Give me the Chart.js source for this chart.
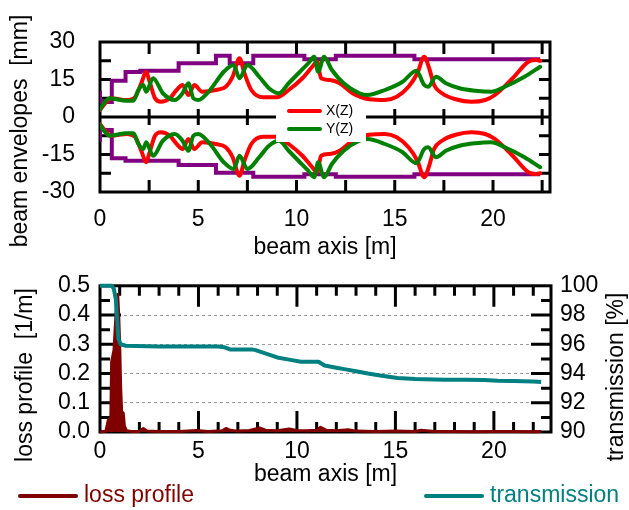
<!DOCTYPE html>
<html>
<head>
<meta charset="utf-8">
<script src="https://cdn.jsdelivr.net/npm/chart.js@4.4.1/dist/chart.umd.min.js"></script>
<style>
  html, body { margin: 0; padding: 0; background: #fff; }
  #wrap { position: relative; width: 629px; height: 510px; }
  .panel { position: absolute; left: 0; width: 629px; }
  #top-panel { top: 0; height: 262px; }
  #bottom-panel { top: 262px; height: 248px; }
</style>
</head>
<body>
<div id="wrap">
  <div class="panel" id="top-panel"><canvas id="envelope-chart"></canvas></div>
  <div class="panel" id="bottom-panel"><canvas id="loss-chart"></canvas></div>
</div>
<script>
const FONT = "'Liberation Sans', Arial, sans-serif";

// tick labels
const zTicks = [0, 5, 10, 15, 20];
const envelopeTicks = [-30, -15, 0, 15, 30];
const lossTicks = [0, 0.1, 0.2, 0.3, 0.4, 0.5];
const transmissionTicks = [90, 92, 94, 96, 98, 100];

// aperture (step function, value holds until next z)
const apertureZ = [0, 0.6, 1.3, 2.05, 4.0, 5.9, 6.6, 7.8, 10.4, 12.0, 16.0, 17.2, 22.4];
const apertureTop = [10.5, 6.0, 14.5, 18.0, 18.5, 21.5, 24.5, 21.5, 24.5, 23.1, 24.5, 23.1, 23.1];
const apertureBottom = [-9.9, -5.2, -16.5, -17.5, -17.5, -19.2, -22.3, -22.3, -23.9, -22.9, -23.9, -22.9, -22.9];

// X(Z) envelope, mm
const xEnvZ = [0, 0.25, 0.6, 1.35, 1.8, 2.1, 2.35, 2.5, 2.8, 3.1,
  3.55, 3.9, 4.2, 4.5, 4.8, 5.2, 5.9, 6.4, 6.75, 7.1,
  7.35, 7.7, 8.3, 9.0, 9.6, 10.3, 10.8, 11.05, 11.25, 11.7,
  12.2, 12.85, 13.7, 14.5, 15.1, 15.7, 16.15, 16.5, 16.75, 17.0,
  17.4, 18.1, 18.9, 19.6, 20.1, 21.0, 21.8, 22.2, 22.4];
const xEnvMm = [2.8, 5.4, 7.5, 6.8, 8.1, 13.5, 18.1, 14.8, 7.5, 6.1,
  7.5, 10.8, 12.8, 8.8, 12.8, 10.1, 10.8, 12.1, 16.1, 23.5,
  17.5, 10.8, 7.9, 7.9, 10.8, 15.5, 20.1, 22.1, 15.5, 14.8,
  13.5, 9.5, 7.1, 6.8, 8.1, 12.1, 17.5, 24.1, 19.5, 12.8,
  9.5, 7.1, 6.1, 6.8, 8.8, 15.5, 22.1, 22.8, 22.5];

// Y(Z) envelope, mm
const yEnvZ = [0, 0.2, 0.5, 0.9, 1.3, 1.7, 1.95, 2.2, 2.35, 2.7,
  3.2, 3.8, 4.2, 4.5, 4.75, 5.0, 5.6, 6.3, 6.8, 7.1,
  7.5, 8.1, 8.6, 9.1, 9.6, 10.1, 10.6, 10.9, 11.1, 11.4,
  11.8, 12.4, 13.2, 13.6, 14.5, 15.4, 16.1, 16.5, 16.7, 17.1,
  17.6, 18.3, 19.1, 19.9, 20.6, 21.6, 22.4];
const yEnvMm = [3, 5.5, 7.5, 7, 6.5, 6.5, 10.8, 12.8, 10.1, 15.5,
  9.5, 6.8, 9.5, 13.5, 7.5, 6.8, 10.8, 18.1, 20.8, 15.5,
  20.8, 16.1, 11.5, 9.5, 13.5, 17.5, 21.5, 24.1, 18.1, 24.1,
  18.8, 13.5, 9.5, 8.8, 10.8, 14.1, 18.5, 12.8, 12.1, 16.1,
  13.5, 11.5, 10.5, 10.1, 12.1, 16.1, 20.1];

// loss profile, 1/m
const lossZ = [0, 0.3, 0.42, 0.55, 0.59, 0.71, 0.85, 0.9, 0.95, 1.0,
  1.05, 1.1, 1.18, 1.24, 1.35, 1.6, 2.0, 2.2, 2.4, 3.0,
  4.0, 4.9, 5.5, 6.2, 6.4, 6.6, 7.0, 7.6, 8.1, 8.4,
  9.0, 9.6, 10.0, 10.5, 11.0, 11.2, 11.5, 12.0, 12.6, 13.0,
  14.0, 15.0, 16.0, 16.3, 17.0, 18.0, 19.0, 20.0, 21.0, 22.0, 22.4];
const lossValues = [0, 0.003, 0.04, 0.05, 0.24, 0.28, 0.45, 0.47, 0.4, 0.3,
  0.15, 0.07, 0.065, 0.02, 0.004, 0.002, 0.002, 0.012, 0.003, 0.002,
  0.002, 0.005, 0.002, 0.004, 0.012, 0.006, 0.003, 0.005, 0.014, 0.006,
  0.004, 0.01, 0.005, 0.004, 0.006, 0.016, 0.006, 0.004, 0.008, 0.003,
  0.002, 0.003, 0.002, 0.006, 0.002, 0.002, 0.001, 0.002, 0.002, 0.001, 0.002];

// transmission, %
const transZ = [0, 0.6, 0.7, 0.8, 0.88, 0.93, 1.05, 1.3, 3.0, 6.0,
  6.3, 6.6, 7.7, 7.9, 8.35, 9.0, 9.6, 10.2, 11.1, 11.4,
  12.0, 12.4, 13.0, 13.6, 14.3, 15.1, 16.0, 16.5, 17.5, 18.5,
  19.5, 20.2, 21.0, 22.0, 22.4];
const transValues = [100, 100, 99.8, 99.1, 97.5, 96.4, 96.0, 95.9, 95.85, 95.85,
  95.8, 95.65, 95.65, 95.6, 95.4, 95.1, 94.95, 94.8, 94.8, 94.55,
  94.4, 94.3, 94.15, 94.0, 93.85, 93.7, 93.62, 93.6, 93.58, 93.57,
  93.55, 93.5, 93.48, 93.45, 93.42];

const RED = '#ff0000';
const GREEN = '#008000';
const PURPLE = '#800080';
const DARK_RED = '#800000';
const TEAL = '#008080';

function toPoints(zs, vs, sign = 1) {
  return zs.map((z, i) => ({ x: z, y: sign * vs[i] }));
}

function fixedTicks(values) {
  return scale => { scale.ticks = values.map(v => ({ value: v })); };
}

// frame + inward tick marks, drawn under the data
function framePlugin(marks, zeroLine) {
  return {
    id: 'frame',
    beforeDatasetsDraw(chart) {
      const { ctx, chartArea: a } = chart;
      ctx.save();
      ctx.strokeStyle = '#000';
      ctx.lineWidth = 3;
      ctx.lineCap = 'butt';
      ctx.beginPath();
      marks.forEach(m => {
        const scale = chart.scales[m.axis];
        for (let i = 0; ; i++) {
          const v = Math.round((m.from + i * m.step) * 1000) / 1000;
          if (v > m.to + 1e-9) break;
          const major = m.majorStep && Math.abs(v / m.majorStep - Math.round(v / m.majorStep)) < 1e-6;
          const len = major ? m.majorLen : m.minorLen;
          const p = scale.getPixelForValue(v);
          if (m.axis === 'x') {
            ctx.moveTo(p, a.top); ctx.lineTo(p, a.top + len);
            ctx.moveTo(p, a.bottom); ctx.lineTo(p, a.bottom - len);
            if (zeroLine) {
              const y0 = chart.scales[zeroLine.axis].getPixelForValue(0);
              ctx.moveTo(p, y0 - zeroLine.half); ctx.lineTo(p, y0 + zeroLine.half);
            }
          } else if (m.side === 'left') {
            ctx.moveTo(a.left, p); ctx.lineTo(a.left + len, p);
          } else {
            ctx.moveTo(a.right, p); ctx.lineTo(a.right - len, p);
          }
        }
      });
      if (zeroLine) {
        const y0 = chart.scales[zeroLine.axis].getPixelForValue(0);
        ctx.moveTo(a.left, y0); ctx.lineTo(a.right, y0);
      }
      ctx.stroke();
      ctx.strokeRect(a.left, a.top, a.width, a.height);
      ctx.restore();
    }
  };
}

// rotated y axis titles (reading bottom to top)
function axisTitlesPlugin(items) {
  return {
    id: 'axisTitles',
    afterDraw(chart) {
      const ctx = chart.ctx;
      ctx.save();
      ctx.font = '23px ' + FONT;
      ctx.fillStyle = '#000';
      ctx.textAlign = 'center';
      ctx.textBaseline = 'middle';
      items.forEach(t => {
        ctx.save();
        ctx.translate(t.x, t.y);
        ctx.rotate(-Math.PI / 2);
        ctx.fillText(t.text, 0, 0);
        ctx.restore();
      });
      ctx.restore();
    }
  };
}

function envelopeLegendPlugin(items) {
  return {
    id: 'envelopeLegend',
    afterDraw(chart) {
      const { ctx, chartArea: a } = chart;
      const left = a.left + 176, top = 102;
      ctx.save();
      ctx.fillStyle = '#fff';
      ctx.fillRect(left, top, 90, 40);
      ctx.lineWidth = 4;
      ctx.lineCap = 'round';
      ctx.font = '14px ' + FONT;
      ctx.textBaseline = 'middle';
      items.forEach((it, i) => {
        const y = top + 9 + i * 18;
        ctx.strokeStyle = it.color;
        ctx.beginPath();
        ctx.moveTo(left + 13, y);
        ctx.lineTo(left + 44, y);
        ctx.stroke();
        ctx.fillStyle = '#000';
        ctx.fillText(it.label, left + 50, y);
      });
      ctx.restore();
    }
  };
}

function bottomLegendPlugin(items) {
  return {
    id: 'bottomLegend',
    afterDraw(chart) {
      const ctx = chart.ctx;
      const y = chart.height - 14;
      ctx.save();
      ctx.lineWidth = 4;
      ctx.lineCap = 'round';
      ctx.font = '23px ' + FONT;
      ctx.textBaseline = 'middle';
      items.forEach(it => {
        ctx.strokeStyle = it.color;
        ctx.beginPath();
        ctx.moveTo(it.x0, y);
        ctx.lineTo(it.x1, y);
        ctx.stroke();
        ctx.fillStyle = it.color;
        ctx.fillText(it.label, it.x1 + 8, y);
      });
      ctx.restore();
    }
  };
}

Chart.defaults.font.family = FONT;
Chart.defaults.font.size = 23;
Chart.defaults.color = '#000';
Chart.defaults.animation = false;

const lineStyle = {
  pointRadius: 0,
  borderWidth: 4,
  borderCapStyle: 'round',
  borderJoinStyle: 'round',
  cubicInterpolationMode: 'monotone',
};

const envelopeCanvas = document.querySelector('#envelope-chart');
new Chart(envelopeCanvas.getContext('2d'), {
  type: 'line',
  data: {
    datasets: [
      { ...lineStyle, label: 'Y(Z)', data: toPoints(yEnvZ, yEnvMm), borderColor: GREEN },
      { ...lineStyle, label: 'Y(Z) lower', data: toPoints(yEnvZ, yEnvMm, -1), borderColor: GREEN },
      { ...lineStyle, label: 'X(Z)', data: toPoints(xEnvZ, xEnvMm), borderColor: RED },
      { ...lineStyle, label: 'X(Z) lower', data: toPoints(xEnvZ, xEnvMm, -1), borderColor: RED },
      { ...lineStyle, label: 'aperture', data: toPoints(apertureZ, apertureTop), borderColor: PURPLE, stepped: 'after', borderJoinStyle: 'miter', borderCapStyle: 'butt' },
      { ...lineStyle, label: 'aperture lower', data: toPoints(apertureZ, apertureBottom), borderColor: PURPLE, stepped: 'after', borderJoinStyle: 'miter', borderCapStyle: 'butt' },
    ]
  },
  options: {
    responsive: true,
    maintainAspectRatio: false,
    events: [],
    layout: { padding: { left: 0, right: 79, top: 42, bottom: 0 } },
    plugins: { legend: { display: false }, tooltip: { enabled: false } },
    scales: {
      x: {
        type: 'linear', min: 0, max: 22.9,
        afterBuildTicks: fixedTicks(zTicks),
        afterFit: s => { s.height = 70; },
        grid: { display: false, drawTicks: false },
        border: { display: false },
        ticks: { padding: 14, maxRotation: 0, autoSkip: false },
        title: { display: true, text: 'beam axis [m]', padding: { top: 0, bottom: 1 } }
      },
      y: {
        type: 'linear', min: -30, max: 30,
        afterBuildTicks: fixedTicks(envelopeTicks),
        afterFit: s => { s.width = 100; },
        grid: { display: false, drawTicks: false },
        border: { display: false },
        ticks: { padding: 25, autoSkip: false }
      }
    }
  },
  plugins: [
    framePlugin([
      { axis: 'x', from: 2.5, to: 22.5, step: 2.5, minorLen: 12 },
      { axis: 'y', side: 'left', from: -22.5, to: 22.5, step: 7.5, minorLen: 11 },
      { axis: 'y', side: 'right', from: -22.5, to: 22.5, step: 7.5, minorLen: 11 },
    ], { axis: 'y', half: 8 }),
    axisTitlesPlugin([{ text: 'beam envelopes  [mm]', x: 21, y: 131 }]),
    envelopeLegendPlugin([{ label: 'X(Z)', color: RED }, { label: 'Y(Z)', color: GREEN }]),
  ]
});

const lossCanvas = document.querySelector('#loss-chart');
new Chart(lossCanvas.getContext('2d'), {
  type: 'line',
  data: {
    datasets: [
      { label: 'transmission', data: toPoints(transZ, transValues), yAxisID: 'yTrans',
        borderColor: TEAL, borderWidth: 4, pointRadius: 0, borderJoinStyle: 'round', clip: 6 },
      { label: 'loss profile', data: toPoints(lossZ, lossValues), yAxisID: 'yLoss',
        borderColor: DARK_RED, backgroundColor: DARK_RED, fill: 'origin',
        borderWidth: 3, borderJoinStyle: 'round', pointRadius: 0, clip: 6 },
    ]
  },
  options: {
    responsive: true,
    maintainAspectRatio: false,
    events: [],
    layout: { padding: { left: 0, right: 0, top: 20, bottom: 0 } },
    plugins: { legend: { display: false }, tooltip: { enabled: false } },
    scales: {
      x: {
        type: 'linear', min: 0, max: 22.9,
        afterBuildTicks: fixedTicks(zTicks),
        afterFit: s => { s.height = 78; },
        grid: { display: false, drawTicks: false },
        border: { display: false },
        ticks: { padding: 6, maxRotation: 0, autoSkip: false },
        title: { display: true, text: 'beam axis [m]', padding: { top: 0, bottom: 22 } }
      },
      yLoss: {
        type: 'linear', position: 'left', min: 0, max: 0.5,
        afterBuildTicks: fixedTicks(lossTicks),
        afterFit: s => { s.width = 100; },
        grid: {
          drawTicks: false, lineWidth: 1,
          color: c => (c.tick && c.tick.value > 0 && c.tick.value < 0.5) ? '#999' : 'rgba(0,0,0,0)'
        },
        border: { display: false, dash: [3, 3] },
        ticks: { padding: 10, autoSkip: false, callback: v => v.toFixed(1) }
      },
      yTrans: {
        type: 'linear', position: 'right', min: 90, max: 100,
        afterBuildTicks: fixedTicks(transmissionTicks),
        afterFit: s => { s.width = 78; },
        grid: { display: false, drawTicks: false },
        border: { display: false },
        ticks: { padding: 9, autoSkip: false }
      }
    }
  },
  plugins: [
    framePlugin([
      { axis: 'x', from: 1, to: 22, step: 1, majorStep: 5, minorLen: 10, majorLen: 21 },
      { axis: 'yLoss', side: 'left', from: 0.05, to: 0.45, step: 0.05, majorStep: 0.1, minorLen: 10, majorLen: 21 },
      { axis: 'yTrans', side: 'right', from: 91, to: 99, step: 1, majorStep: 2, minorLen: 10, majorLen: 20 },
    ], null),
    axisTitlesPlugin([
      { text: 'loss profile  [1/m]', x: 26, y: 113 },
      { text: 'transmission [%]', x: 617, y: 115 },
    ]),
    bottomLegendPlugin([
      { label: 'loss profile', color: DARK_RED, x0: 20, x1: 76 },
      { label: 'transmission', color: TEAL, x0: 426, x1: 482 },
    ]),
  ]
});
</script>
</body>
</html>
